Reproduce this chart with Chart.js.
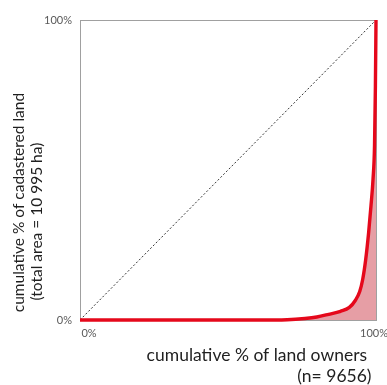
<!DOCTYPE html>
<html>
<head>
<meta charset="utf-8">
<script src="https://cdn.jsdelivr.net/npm/chart.js@4/dist/chart.umd.min.js"></script>
<style>
  html, body { margin:0; padding:0; background:#fff; }
  #wrap { width:387px; height:385px; }
</style>
</head>
<body>
<div id="wrap"><canvas id="lorenz"></canvas></div>
<script>
// Lorenz curve of land ownership
const ownersPct = [0, 20, 40, 60, 70, 76, 80, 84, 88, 91, 93, 94.5, 95.5, 96.5, 97.5, 98.3, 99, 99.5, 99.8, 100];
const landPct   = [0, 0, 0, 0, 0.1, 0.5, 1.0, 1.9, 2.9, 4.2, 6.5, 9.5, 13.5, 20, 29, 38, 47, 58, 78, 100];
const equalityX = [0, 100];
const equalityY = [0, 100];
const tickLabels = { 0: '0%', 100: '100%' };

const xTitle = ['cumulative % of land owners  ', '(n= 9656) '];
const yTitle = ['\u2002cumulative % of cadastered land', '\u2002\u2002 (total area = 10 995 ha)'];

const RED = '#e5081b';
const GRID = '#a0a0a0';

new Chart(document.getElementById('lorenz'), {
  type: 'line',
  data: {
    datasets: [
      { label: 'Lorenz', data: ownersPct.map((x, i) => ({ x, y: landPct[i] })),
        borderColor: RED, borderWidth: 3.4, backgroundColor: 'rgba(200,40,55,0.45)',
        fill: 'origin', pointRadius: 0, cubicInterpolationMode: 'monotone', clip: false, order: 1 },
      { label: 'Equality', data: equalityX.map((x, i) => ({ x, y: equalityY[i] })),
        borderColor: '#333', borderWidth: 1, borderDash: [2, 2], pointRadius: 0, fill: false, order: 2 }
    ]
  },
  options: {
    responsive: true, maintainAspectRatio: false, animation: false,
    layout: { padding: { top: 20, right: 11, left: 0, bottom: 0 } },
    plugins: { legend: { display: false }, tooltip: { enabled: false } },
    scales: {
      x: {
        type: 'linear', min: 0, max: 100,
        afterFit: s => { s.height = 65; s.paddingLeft = 0; s.paddingRight = 0; },
        grid: { color: GRID, drawTicks: false },
        border: { color: GRID },
        ticks: { stepSize: 100, padding: 7, labelOffset: -2, color: '#595959', font: { family: 'Lato', size: 11 },
          callback: v => v === 0 ? '\u2002\u2002\u2002\u20020%' : tickLabels[v] },
        title: { display: true, text: xTitle, align: 'end', color: '#1f1f1f',
          font: { family: 'Lato', size: 17.5, lineHeight: 1.2 }, padding: { top: 0, bottom: -1.5 } }
      },
      y: {
        type: 'linear', min: 0, max: 100,
        afterFit: s => { s.width = 80; },
        grid: { color: GRID, drawTicks: false },
        border: { color: GRID },
        ticks: { stepSize: 100, padding: 8, color: '#595959', font: { family: 'Lato', size: 11 },
          callback: v => tickLabels[v] },
        title: { display: true, text: yTitle, align: 'start', color: '#1f1f1f',
          font: { family: 'Lato', size: 15.5, lineHeight: 1.12 }, padding: { top: 10.5, bottom: 0 } }
      }
    }
  }
});
</script>
</body>
</html>
